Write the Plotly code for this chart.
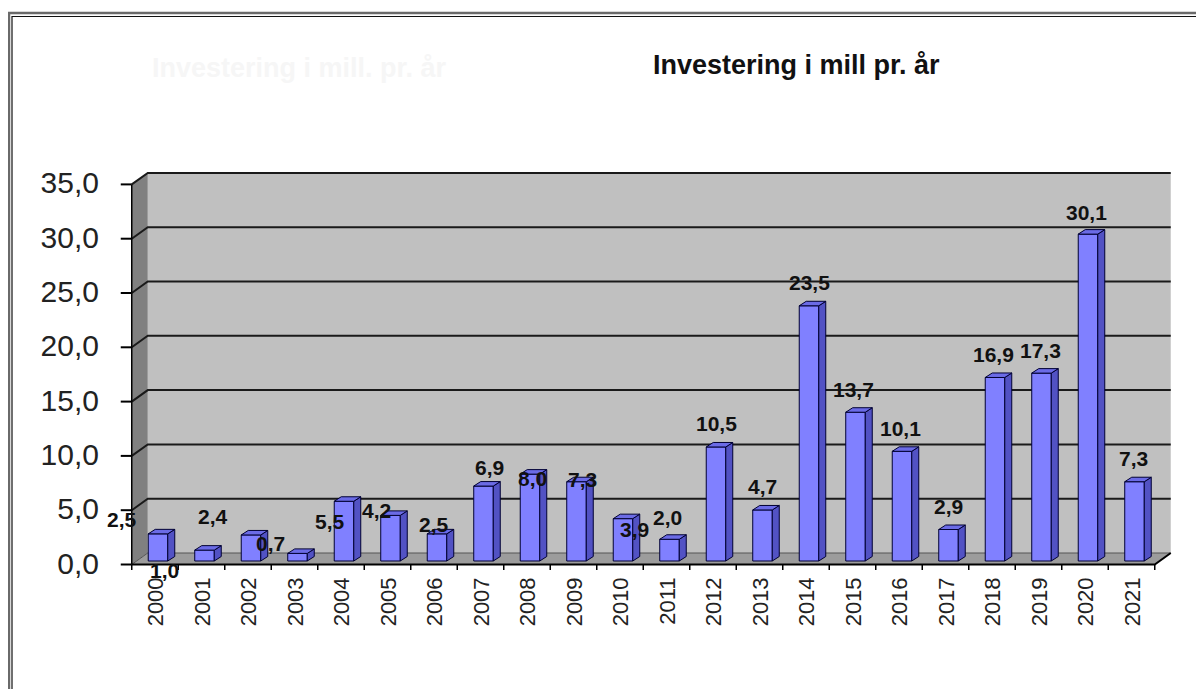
import plotly.graph_objects as go

# ---------------- data ----------------
years = ["2000", "2001", "2002", "2003", "2004", "2005", "2006", "2007", "2008", "2009", "2010",
         "2011", "2012", "2013", "2014", "2015", "2016", "2017", "2018", "2019", "2020", "2021"]
values = [2.5, 1.0, 2.4, 0.7, 5.5, 4.2, 2.5, 6.9, 8.0, 7.3, 3.9,
          2.0, 10.5, 4.7, 23.5, 13.7, 10.1, 2.9, 16.9, 17.3, 30.1, 7.3]
y_ticks = [0, 5, 10, 15, 20, 25, 30, 35]
title_text = "Investering i mill pr. år"
ghost_text = "Investering i mill. pr. år"

# label pixel offsets (style only)
label_dx = [-36, -40, -38, -27, -14, -14, -3, 6, 2, 6, 11, -2, 0, 0, 0, -2, -2, 0, -2, -1, -2, -1]
label_dy = [14, -20, 18, 10, -20, 5, 9, 19, -4, 2, -11, 22, 23, 23, 23, 23, 23, 23, 23, 23, 22, 23]

# ---------------- layout geometry ----------------
OFF = 8                      # page body margin
W, H = 1204 - 2 * OFF, 697 - 2 * OFF
# plot area in screen pixels
SL, SR, ST, SB = 120, 1180, 165, 570
ML, MR, MT, MB = SL - OFF, W - (SR - OFF), ST - OFF, H - (SB - OFF)
PW, PH = W - ML - MR, H - MT - MB
PXX = 46.5    # pixels per category
PXY = 10.86   # pixels per value unit
X0PIX = 158   # screen pixel of first category centre
Y0PIX = 561   # screen pixel of value 0
xr = [(SL - X0PIX) / PXX, (SR - X0PIX) / PXX]
yr = [-(SB - Y0PIX) / PXY, (Y0PIX - ST) / PXY]

FX, FY = -3, -3.5   # front plane offset (px, +up)
BX, BY = 13, 8      # back plane offset
SX, SY = 7, 4.5     # bar depth
BW = 0.42           # bar width (category units)
N = len(years)
FONT = "Liberation Sans, Arial"


def fx(x, p):
    return x + p / PXX


def fy(v, p):
    return v + p / PXY


def path(pts):
    return "M " + " L ".join(f"{a:.4f},{b:.4f}" for a, b in pts) + " Z"


def ppx(px):
    return (px - OFF - ML) / PW


def ppy(py):
    return (H - MB - (py - OFF)) / PH


shapes = []
L, R = -0.5, N - 0.5
top = y_ticks[-1]
# back wall
shapes.append(dict(type="path", xref="x", yref="y", layer="below",
                   path=path([(fx(L, BX), fy(0, BY)), (fx(R, BX), fy(0, BY)),
                              (fx(R, BX), fy(top, BY)), (fx(L, BX), fy(top, BY))]),
                   fillcolor="#c0c0c0", line=dict(width=0)))
# left wall
shapes.append(dict(type="path", xref="x", yref="y", layer="below",
                   path=path([(fx(L, FX), fy(0, FY)), (fx(L, BX), fy(0, BY)),
                              (fx(L, BX), fy(top, BY)), (fx(L, FX), fy(top, FY))]),
                   fillcolor="#808080", line=dict(width=0)))
# floor
shapes.append(dict(type="path", xref="x", yref="y", layer="below",
                   path=path([(fx(L, FX), fy(0, FY)), (fx(R, FX), fy(0, FY)),
                              (fx(R, BX), fy(0, BY)), (fx(L, BX), fy(0, BY))]),
                   fillcolor="#9c9c9c", line=dict(width=0)))
# gridlines
for v in y_ticks:
    shapes.append(dict(type="path", xref="x", yref="y", layer="below",
                       path=f"M {fx(L, FX):.4f},{fy(v, FY):.4f} L {fx(L, BX):.4f},{fy(v, BY):.4f} "
                            f"L {fx(R, BX):.4f},{fy(v, BY):.4f}",
                       line=dict(color="#1a1a1a" if v else "#555555", width=2 if v else 1)))
    # y ticks
    shapes.append(dict(type="line", xref="x", yref="y", layer="below",
                       x0=fx(L, FX - 11), x1=fx(L, FX), y0=fy(v, FY), y1=fy(v, FY),
                       line=dict(color="#000000", width=2)))
# front y-axis line
shapes.append(dict(type="line", xref="x", yref="y", layer="below",
                   x0=fx(L, FX), x1=fx(L, FX), y0=fy(0, FY), y1=fy(top, FY),
                   line=dict(color="#000000", width=1.5)))
# front x-axis line + right diagonal
shapes.append(dict(type="path", xref="x", yref="y", layer="below",
                   path=f"M {fx(L, FX):.4f},{fy(0, FY):.4f} L {fx(R, FX):.4f},{fy(0, FY):.4f} "
                        f"L {fx(R, BX):.4f},{fy(0, BY):.4f}",
                   line=dict(color="#000000", width=2)))
# x ticks
for k in range(N + 1):
    xx = fx(k - 0.5, FX)
    shapes.append(dict(type="line", xref="x", yref="y", layer="below",
                       x0=xx, x1=xx, y0=fy(0, FY), y1=fy(0, FY - 8),
                       line=dict(color="#000000", width=1.5)))
# 3D bar faces
for i, v in enumerate(values):
    r = i + BW / 2
    l = i - BW / 2
    shapes.append(dict(type="path", xref="x", yref="y",
                       path=path([(r, 0), (fx(r, SX), fy(0, SY)), (fx(r, SX), fy(v, SY)), (r, v)]),
                       fillcolor="#5252c4", line=dict(color="#000033", width=1)))
    shapes.append(dict(type="path", xref="x", yref="y",
                       path=path([(l, v), (fx(l, SX), fy(v, SY)), (fx(r, SX), fy(v, SY)), (r, v)]),
                       fillcolor="#6b6be6", line=dict(color="#000033", width=1)))

# outer frame (double line)
shapes.append(dict(type="rect", xref="paper", yref="paper",
                   x0=ppx(9), x1=ppx(1230), y0=ppy(720), y1=ppy(13),
                   line=dict(color="#6a6a6a", width=2.5), fillcolor="rgba(0,0,0,0)"))
shapes.append(dict(type="rect", xref="paper", yref="paper",
                   x0=ppx(12), x1=ppx(1226), y0=ppy(716), y1=ppy(16.5),
                   line=dict(color="#111111", width=1.2), fillcolor="rgba(0,0,0,0)"))

annotations = []
for i, v in enumerate(values):
    annotations.append(dict(x=i, y=v, xref="x", yref="y", showarrow=False,
                            text=f"{v:.1f}".replace(".", ","),
                            xshift=label_dx[i], yshift=label_dy[i],
                            xanchor="center", yanchor="middle",
                            font=dict(family=FONT, size=21, color="#111111", weight="bold")))
annotations.append(dict(x=ppx(796), y=ppy(65), xref="paper", yref="paper", showarrow=False,
                        text=title_text, xanchor="center", yanchor="middle",
                        font=dict(family=FONT, size=27, color="#111111", weight="bold")))
annotations.append(dict(x=ppx(299), y=ppy(68), xref="paper", yref="paper", showarrow=False,
                        text=ghost_text, xanchor="center", yanchor="middle",
                        font=dict(family=FONT, size=27, color="#f6f6f6", weight="bold")))

fig = go.Figure()
fig.add_trace(go.Bar(x=years, y=values, width=BW,
                     marker=dict(color="#8080ff", line=dict(color="#000033", width=1)),
                     hoverinfo="x+y"))

fig.update_layout(
    width=W, height=H,
    margin=dict(l=ML, r=MR, t=MT, b=MB, pad=0),
    paper_bgcolor="white", plot_bgcolor="white",
    showlegend=False,
    shapes=shapes,
    annotations=annotations,
    xaxis=dict(type="category", range=xr, showgrid=False, zeroline=False, showline=False,
               ticks="", tickangle=-90, ticklabelstandoff=2, ticklabelshift=-2,
               tickfont=dict(family=FONT, size=22, color="#222222")),
    yaxis=dict(range=yr, showgrid=False, zeroline=False, showline=False, ticks="",
               tickvals=y_ticks, ticktext=[f"{t:.1f}".replace(".", ",") for t in y_ticks],
               ticklabelstandoff=20, ticklabelshift=2,
               tickfont=dict(family=FONT, size=30, color="#222222")),
)

fig.write_html("out.html")
